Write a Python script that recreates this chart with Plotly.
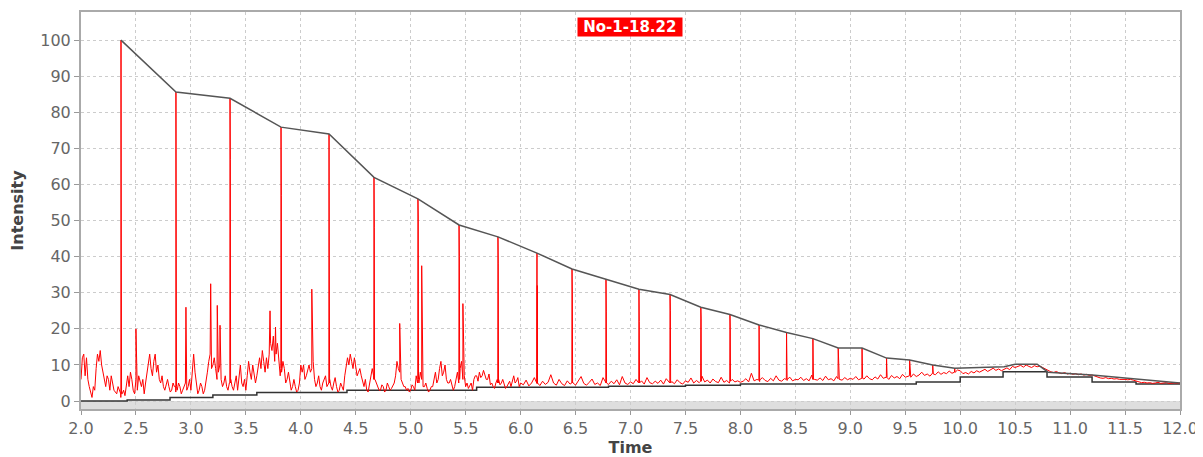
import numpy as np
import plotly.graph_objects as go

# ---- data ----
# background noise of the red trace, 2.0-6.0 min, every 0.025 min
noise_a = [6, 13, 12, 4, 1, 3, 13, 14, 8, 4, 6, 7, 3, 2, 3, 2, 1.5, 7, 8, 3,
           6, 7, 4, 2, 8, 13, 7, 13, 10, 5, 4, 5, 4, 3, 4, 3, 4, 3, 5, 4,
           3, 13, 4, 3, 4, 3, 8, 13, 10, 9, 8, 6, 5, 4, 5, 4, 5, 3, 10, 4,
           3, 11, 6, 8, 7, 12, 14, 8, 9, 16, 18, 13, 10, 8, 9, 6, 5, 4, 4, 3,
           10, 10, 7, 10, 9, 6, 5, 4, 5, 7, 5, 4, 5, 4, 3, 4, 7, 12, 13, 9,
           10, 8, 7, 4, 3, 5, 9, 6, 4, 3, 4, 3, 4, 3.5, 5, 11, 8, 5, 4, 3.5,
           3, 4, 7, 5, 6, 4, 3.5, 3, 4, 8, 6, 11, 8, 6, 5, 4, 4, 8, 9, 6,
           4, 3.5, 5, 6, 7, 8, 7, 7, 6, 4.5, 4, 5, 6, 5, 4.5, 4, 5.5, 6, 5, 6.5,
           5]
# in-between samples of the same noise (2.0125-5.9875 min)
noise_a_mid = [12, 7, 6, 2, 4, 9, 11, 10, 5, 7, 3, 5, 2.5, 4, 1, 3, 5, 4, 6, 2,
               3, 5, 6, 5, 10, 9, 11, 8, 6, 7, 3, 6, 2.5, 5, 2.5, 5, 2, 4, 3, 6,
               7, 8, 2, 5, 2, 5, 11, 9, 12, 6, 10, 4, 7, 3, 6, 3, 7, 6, 5, 6,
               7, 8, 10, 5, 10, 9, 11, 12, 13, 14, 11, 16, 7, 11, 5, 8, 3, 6, 2.5, 5,
               8, 6, 9, 8, 11, 4, 7, 3, 6, 4, 6, 3, 6.5, 2.5, 5, 3, 9, 10, 11, 12,
               7, 9, 5, 6, 2.5, 7, 7, 5, 3, 4.5, 2.5, 5, 3, 4.5, 7, 9, 6, 4, 3, 2.5,
               4.5, 3, 5, 8, 4, 5, 2.5, 4, 6, 5, 9, 7, 10, 5, 6, 3, 6, 5, 11, 7,
               5, 4.5, 3, 7, 5.5, 6.5, 8.5, 6, 7.5, 5, 3.5, 6, 4.5, 6, 3.5, 5, 4, 7, 5.5, 4]
# background noise, 6.025-12.0 min, every 0.025 min
noise_b = [4.5, 5.8, 4.2, 5, 6.5, 4.8, 4.3, 5.5, 4.6, 5.2, 7.3, 5, 4.4, 6, 4.8, 4.3, 5.6, 4.7, 5.1, 4.4,
           5.5, 6.8, 4.9, 4.4, 5.2, 6.1, 4.6, 5, 4.3, 6.5, 5.2, 4.6, 5.5, 4.8, 5.9, 4.5, 6.8, 5, 4.6, 5.3,
           4.8, 6, 5, 5.6, 4.7, 6.5, 5.1, 4.8, 5.5, 4.9, 5.8, 4.7, 6.2, 5, 5.4, 4.8, 5.9, 5.1, 4.7, 5.6,
           5.2, 6.4, 5, 5.7, 5.1, 6.9, 5.3, 5.8, 5, 6.1, 5.4, 5.1, 6.6, 5.2, 5.7, 5, 6, 5.3, 5.6, 5.2,
           5.5, 6.2, 5.3, 7.7, 5.6, 6, 5.4, 6.5, 5.7, 5.4, 6.3, 5.6, 7, 5.8, 5.5, 6.2, 5.7, 6.6, 5.6, 6,
           5.9, 6.6, 5.7, 6.2, 5.6, 7.2, 6, 5.8, 6.4, 5.7, 6.9, 5.9, 6.2, 5.6, 6.8, 6, 5.8, 6.5, 5.9, 6.3,
           6, 6.8, 5.9, 6.4, 6.1, 7, 6.2, 5.9, 6.7, 6.1, 7.3, 6.3, 6.6, 6, 7.1, 6.4, 6.8, 6.2, 7.4, 6.6,
           7, 6.6, 7.5, 6.8, 7.2, 8, 7.1, 7.5, 6.9, 7.8, 7.3, 8.1, 7.4, 7.9, 7.6, 8.3, 7.7, 8.2, 8.6, 8.4,
           7.6, 7.9, 7.5, 8.2, 7.8, 8.4, 8, 8.3, 8.8, 8.2, 8.6, 9.1, 8.5, 8.9, 8.4, 8.8, 9.2, 8.7, 9.6, 9.3,
           9.5, 9.9, 9.4, 10, 9.6, 9.3, 9.8, 9.5, 9.7, 9.3, 8.8, 8.5, 8.1, 7.9, 8.2, 7.8, 7.6, 7.9, 7.5, 7.7,
           7.4, 7.6, 7.3, 7.5, 7.2, 7.4, 7.1, 7.2, 6.9, 6.7, 6.4, 6.3, 6.5, 6.2, 6.3, 6.1, 6.2, 6.0, 6.1, 6.0,
           5.9, 6.0, 5.8, 5.6, 5.3, 5.1, 5.2, 5.0, 5.1, 4.9, 5.0, 5.2, 4.9, 5.0, 5.1, 4.9, 5.0, 5.0, 4.9, 5.0]

# main peaks (apex joined by the grey envelope), shoulder and foot values
peak_t = [2.364, 2.864, 3.356, 3.82, 4.257, 4.666, 5.066, 5.44, 5.794, 6.149,
          6.468, 6.777, 7.077, 7.36, 7.64, 7.905, 8.17, 8.42, 8.66, 8.89,
          9.107, 9.33, 9.54, 9.75, 9.95]
peak_v = [100, 85.6, 83.9, 75.9, 74, 62, 56, 48.8, 45.5, 41,
          36.6, 33.8, 31, 29.5, 26, 24, 21.1, 19, 17.3, 14.7,
          14.7, 11.9, 11.4, 10, 9.1]
peak_s = [35, 38, 67, 57, 50, 48, 51, 40, 38, 32,
          30, 24.7, 22, 25, 23, 20, 17, 12.3, 12, 10,
          11, 9, 9, 8, 8]
peak_foot = [2, 4, 5, 9, 5, 6, 6, 6, 5, 5, 5, 5, 5, 5, 5.5, 5.5, 5.8, 6, 6, 6.2,
             6.3, 6.5, 7, 7.5, 8]

# secondary spikes
spike_t = [2.50, 2.955, 3.18, 3.24, 3.265, 3.72, 3.77, 4.10, 4.90, 5.10, 5.475]
spike_v = [20, 26, 32.5, 26.5, 21, 25, 20.5, 31, 21.5, 37.5, 27]

# envelope tail after the last peak
tail_t = [10.4, 10.5, 10.7, 10.8, 11.2, 11.6, 12.0]
tail_v = [9.5, 10.2, 10.2, 8.0, 7.2, 6.0, 5.0]

# step baseline
base_t = [2.0, 2.42, 2.81, 3.2, 3.6, 4.42, 5.6, 6.8, 7.5, 8.0, 9.6, 10.0, 10.39, 10.79, 11.2, 11.6, 12.0]
base_v = [0, 0.3, 1.0, 1.7, 2.4, 3.0, 3.8, 4.1, 4.4, 4.7, 5.3, 6.7, 8.1, 6.7, 5.3, 4.7, 4.7]

x_ticks = [2.0, 2.5, 3.0, 3.5, 4.0, 4.5, 5.0, 5.5, 6.0, 6.5, 7.0, 7.5, 8.0, 8.5, 9.0, 9.5, 10.0, 10.5, 11.0, 11.5, 12.0]
y_ticks = [0, 10, 20, 30, 40, 50, 60, 70, 80, 90, 100]
title_text = "No-1-18.22"

# ---- build red trace ----
pts = []
for i, v in enumerate(noise_a):
    pts.append((2.0 + 0.025 * i, v))
for i, v in enumerate(noise_a_mid):
    pts.append((2.0125 + 0.025 * i, v))
for i, v in enumerate(noise_b):
    pts.append((6.025 + 0.025 * i, v))
for t, v, s, f in zip(peak_t, peak_v, peak_s, peak_foot):
    pts.append((t - 0.002, f))
    pts.append((t, v))
    pts.append((t + 0.003, s))
    pts.append((t + 0.005, f))
for t, v in zip(spike_t, spike_v):
    pts.append((t, v))
pts.sort(key=lambda p: p[0])
red_x = [p[0] for p in pts]
red_y = [p[1] for p in pts]

env_x = peak_t + tail_t
env_y = peak_v + tail_v

fig = go.Figure()
fig.add_shape(type="rect", xref="x", yref="y", x0=2.0, x1=12.0, y0=-2.2, y1=0,
              fillcolor="#dedede", line=dict(width=0), layer="below")
fig.add_trace(go.Scatter(x=base_t, y=base_v, mode="lines", line=dict(color="#333333", width=1.5, shape="hv"),
                         showlegend=False, hoverinfo="skip"))
fig.add_trace(go.Scatter(x=red_x, y=red_y, mode="lines", line=dict(color="#ff0000", width=1),
                         showlegend=False))
fig.add_trace(go.Scatter(x=env_x, y=env_y, mode="lines", line=dict(color="#555555", width=1.5),
                         showlegend=False))

fig.add_annotation(x=6.995, xref="x", y=1, yref="paper", yanchor="top", yshift=-5,
                   text="<b>&nbsp;" + title_text + "&nbsp;</b>", showarrow=False, bgcolor="#ff0000",
                   font=dict(color="white", size=15, family="DejaVu Sans"), borderpad=0)

# the page body adds an 8px offset, so the figure is 8px smaller than the window
fig.update_layout(
    width=1195, height=449,
    margin=dict(l=73, r=23, t=4, b=48, autoexpand=False),
    paper_bgcolor="white", plot_bgcolor="white",
    font=dict(family="DejaVu Sans", color="#666666", size=16),
)
fig.update_xaxes(range=[2.0, 12.0], tickvals=x_ticks, ticktext=[f"{v:.1f}" for v in x_ticks],
                 showgrid=True, gridcolor="#cccccc", griddash="dot", gridwidth=1,
                 showline=True, linecolor="#aaaaaa", linewidth=1.5, mirror=True,
                 ticks="outside", ticklen=4, tickcolor="#999999", zeroline=False, automargin=False,
                 title=dict(text="<b>Time</b>", font=dict(size=16, color="#444444"), standoff=4))
fig.update_yaxes(range=[-2.2, 107.8], tickvals=y_ticks,
                 showgrid=True, gridcolor="#cccccc", griddash="dot", gridwidth=1,
                 showline=True, linecolor="#aaaaaa", linewidth=2, mirror=True,
                 ticks="outside", ticklen=5, tickcolor="#999999", zeroline=False, automargin=False,
                 title=dict(text="<b>Intensity</b>", font=dict(size=16, color="#444444"), standoff=14))

fig.write_html("out.html")
